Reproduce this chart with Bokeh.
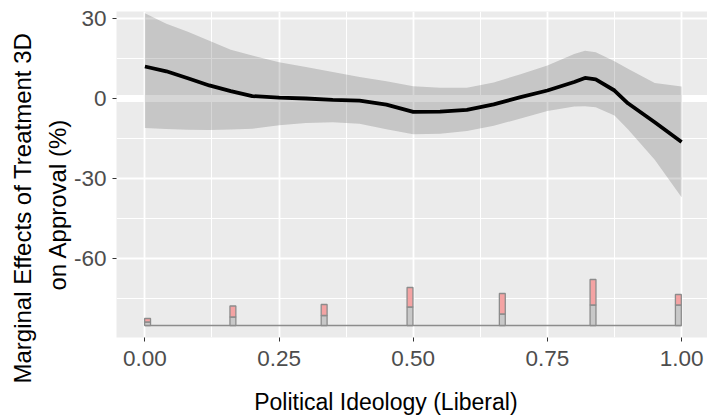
import numpy as np
from bokeh.plotting import figure
from bokeh.layouts import column
from bokeh.models import Range1d, FixedTicker, Title, Label, CustomJSTickFormatter
from bokeh.embed import file_html
from bokeh.resources import INLINE

# ---- data ----
x_grid = [0.0, 0.04, 0.08, 0.12, 0.16, 0.20, 0.25, 0.30, 0.35, 0.40, 0.45, 0.50,
          0.55, 0.60, 0.65, 0.70, 0.75, 0.80, 0.82, 0.84, 0.875, 0.90, 0.95, 1.00]
effect = [12.0, 10.2, 7.6, 4.9, 2.8, 0.9, 0.3, 0.0, -0.5, -0.8, -2.3, -5.0,
          -4.9, -4.3, -2.2, 0.5, 3.0, 6.2, 7.7, 7.2, 3.0, -1.8, -8.9, -16.3]
ci_upper = [32.0, 28.0, 25.0, 21.7, 18.3, 16.1, 13.6, 11.8, 9.9, 8.1, 6.5, 4.6,
            4.0, 4.0, 6.0, 9.1, 12.4, 16.7, 17.9, 17.3, 14.0, 11.2, 5.8, 4.5]
ci_lower = [-11.1, -11.4, -11.7, -11.8, -11.6, -11.3, -10.0, -9.2, -8.9, -9.5, -11.5, -13.4,
            -13.2, -12.2, -10.2, -7.5, -4.7, -3.0, -2.9, -3.3, -6.4, -11.5, -23.0, -37.0]

hist_x = [0.005, 0.164, 0.334, 0.494, 0.666, 0.835, 0.994]
control_counts = [7, 17, 20, 37, 23, 41, 41]
treated_counts = [7, 22, 22, 39, 41, 51, 21]

x_ticks = [0.0, 0.25, 0.5, 0.75, 1.0]
x_tick_labels = ["0.00", "0.25", "0.50", "0.75", "1.00"]
x_minor = [0.125, 0.375, 0.625, 0.875]
y_ticks = [30, 0, -30, -60]
y_tick_labels = ["30", "0", "-30", "-60"]
y_minor = [15, -15, -45, -75]

x_title = "Political Ideology (Liberal)"
y_title_lines = ["Marginal Effects of Treatment 3D", "on Approval (%)"]

X_RANGE = (-0.0529, 1.0483)

# ---- main figure ----
p = figure(width=707, height=385, output_backend="svg", toolbar_location=None,
           title=None,
           x_range=Range1d(*X_RANGE), y_range=Range1d(-89.6, 32.62),
           min_border_left=114, min_border_right=0, min_border_top=11,
           min_border_bottom=48)
p.background_fill_color = "#EBEBEB"
p.border_fill_color = "white"
p.outline_line_color = None

p.xaxis.ticker = FixedTicker(ticks=x_ticks, minor_ticks=x_minor)
p.yaxis.ticker = FixedTicker(ticks=y_ticks, minor_ticks=y_minor)
fmt_code = ("for (let i = 0; i < tvals.length; i++) {"
            " if (Math.abs(tvals[i] - tick) < 1e-9) return tlabs[i]; } return '';")
p.xaxis.formatter = CustomJSTickFormatter(args=dict(tvals=x_ticks, tlabs=x_tick_labels), code=fmt_code)
p.yaxis.formatter = CustomJSTickFormatter(args=dict(tvals=y_ticks, tlabs=y_tick_labels), code=fmt_code)

for g in (p.xgrid, p.ygrid):
    g.grid_line_color = "white"
    g.grid_line_width = 1.8
    g.minor_grid_line_color = "white"
    g.minor_grid_line_width = 1.0

for ax in (p.xaxis, p.yaxis):
    ax.axis_line_color = None
    ax.major_tick_line_color = "#333333"
    ax.major_tick_line_width = 1
    ax.major_tick_out = 4
    ax.major_tick_in = 0
    ax.minor_tick_line_color = None
    ax.major_label_text_font = "Liberation Sans"
    ax.major_label_text_font_size = "22.5px"
    ax.major_label_text_color = "#4D4D4D"
    ax.major_label_standoff = 6
p.xaxis.major_label_standoff = 9

# zero reference line (thick white)
p.hspan(y=[0], line_color="white", line_width=7)

# confidence band and effect line
p.varea(x=x_grid, y1=ci_lower, y2=ci_upper, fill_color="#333333", fill_alpha=0.2)
p.line(x_grid, effect, line_color="black", line_width=3.8)

# histogram at bottom
hist_base = -85.1
hist_height = 17.25
bar_w = 0.011
total = [c + t for c, t in zip(control_counts, treated_counts)]
scale = hist_height / max(total)
left = [x - bar_w / 2 for x in hist_x]
right = [x + bar_w / 2 for x in hist_x]
mid = [hist_base + c * scale for c in control_counts]
top = [hist_base + s * scale for s in total]

p.line([min(x_grid), max(x_grid)], [hist_base, hist_base], line_color="#8C8C8C", line_width=1.6)
p.quad(left=left, right=right, bottom=[hist_base] * len(hist_x), top=mid,
       fill_color="#C8C8C8", line_color="#8C8C8C", line_width=1.3)
p.quad(left=left, right=right, bottom=mid, top=top,
       fill_color="#F4A3A3", line_color="#8C8C8C", line_width=1.3)

# y-axis title (two lines) as side titles
ty2 = Title(text=y_title_lines[1], align="left", offset=47, standoff=0,
            text_font="Liberation Sans", text_font_size="24px",
            text_font_style="normal", text_color="black")
p.add_layout(ty2, "left")
ty1 = Title(text=y_title_lines[0], align="left", offset=-46, standoff=12,
            text_font="Liberation Sans", text_font_size="24px",
            text_font_style="normal", text_color="black")
p.add_layout(ty1, "left")

# ---- strip below for the x-axis title ----
p2 = figure(width=707, height=33, output_backend="svg", toolbar_location=None,
            title=None, x_axis_type=None, y_axis_type=None,
            x_range=Range1d(*X_RANGE), y_range=Range1d(0, 33),
            min_border_left=114, min_border_right=0, min_border_top=0,
            min_border_bottom=0)
p2.outline_line_color = None
p2.background_fill_color = "white"
p2.border_fill_color = "white"
p2.grid.visible = False
p2.add_layout(Label(x=0.449, y=17.0, text=x_title, text_align="center",
                    text_baseline="alphabetic", text_font="Liberation Sans",
                    text_font_size="23px", text_color="black"))

layout = column(p, p2, spacing=0)
open("out.html", "w").write(file_html(layout, INLINE))
